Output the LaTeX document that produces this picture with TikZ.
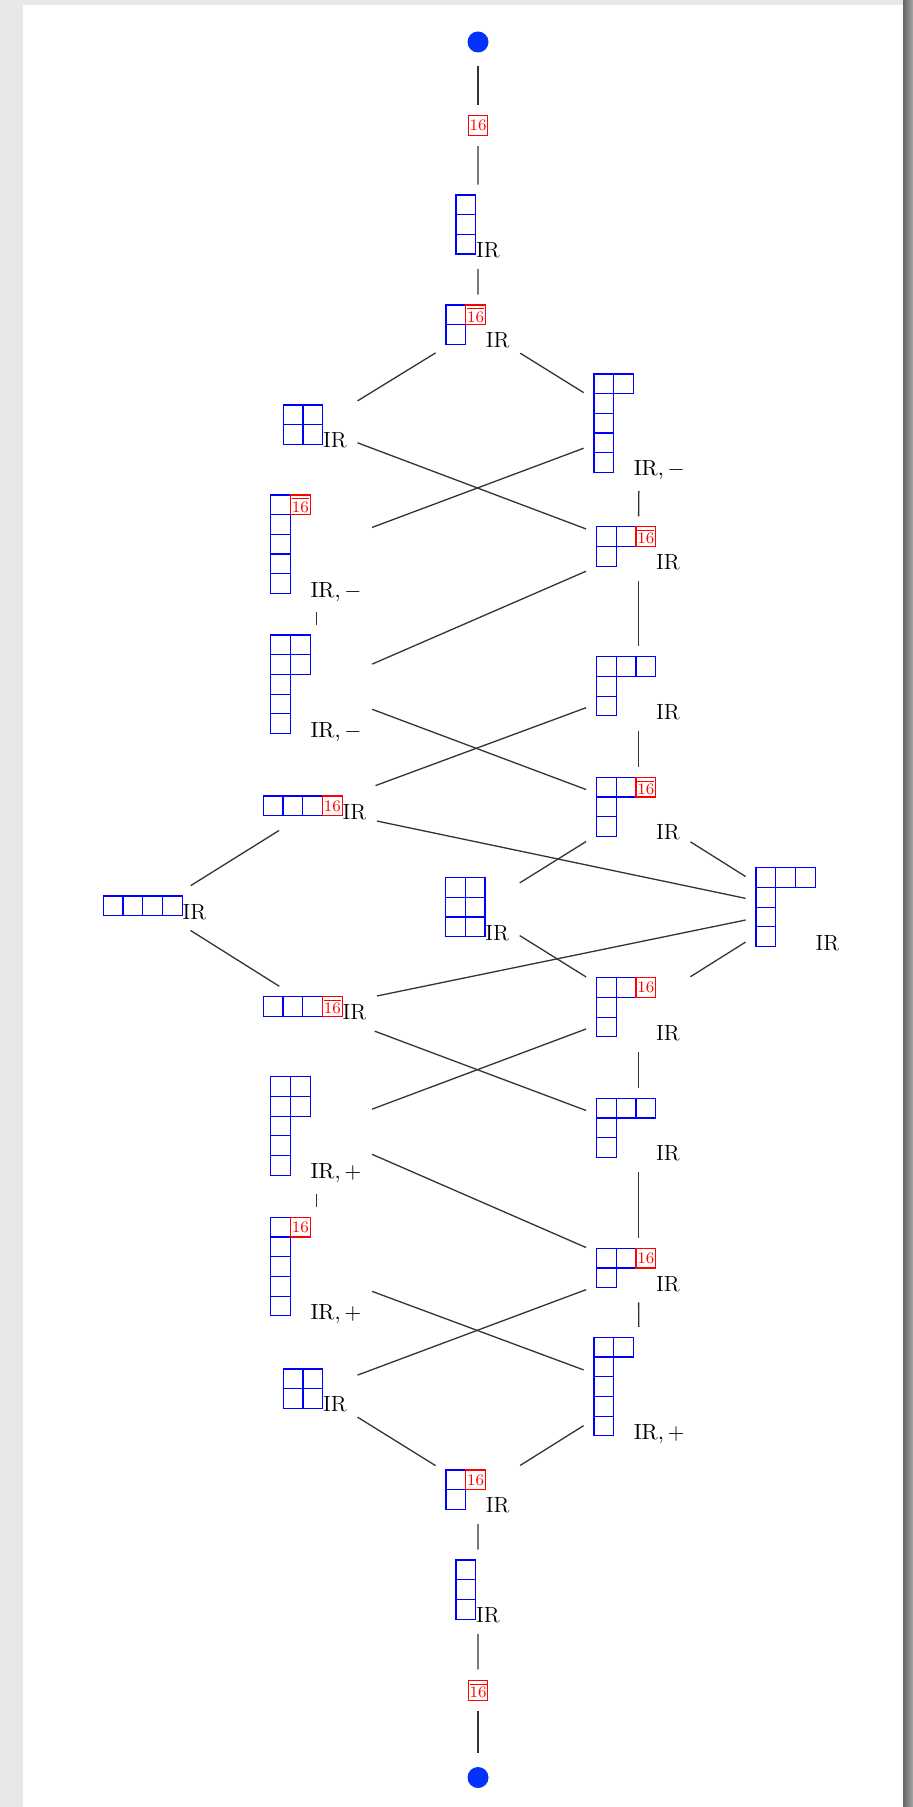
\documentclass[tikz,border=0pt]{standalone}
\usepackage{tikz}
\usetikzlibrary{fit,calc}
\definecolor{dotblue}{RGB}{5,50,250}
\newcommand{\ybs}{19.7}
\tikzset{
  ybox/.style   = {draw=blue, line width=0.6pt},
  rbox/.style   = {draw=red, text=red, line width=0.6pt, minimum size=9.85pt, inner sep=0pt, font=\fontsize{8}{8}\selectfont},
  irl/.style    = {anchor=base west, inner sep=0pt, font=\fontsize{11}{13}\selectfont},
  entry/.style  = {inner sep=5pt},
  vdot/.style   = {circle, fill=dotblue, minimum size=10.5pt, inner sep=0pt, outer sep=7pt},
  link/.style   = {draw=black!80, line width=0.65pt},
}

\begin{document}
\begin{tikzpicture}[x=0.5pt,y=-0.5pt]
  \useasboundingbox (0,0) rectangle (913,1807);
  \fill[black!9] (0,0) rectangle (913,1807);
  \fill[white] (23,5) rectangle (903,1807);
  \shade[left color=black!60, right color=black!35] (903,0) rectangle (913,1807);

  % ends of the chain
  \node[vdot] (dtop) at (478,42) {};
  \node[rbox, outer sep=5.5pt] (rtop) at (478,125.4) {16};
  \node[rbox, outer sep=5.5pt] (rbot) at (478,1690.3) {$\overline{16}$};
  \node[vdot] (dbot) at (478,1777.5) {};

  % young diagrams: name/x/y/rows/width/height/red column/red kind/label
  \foreach \nm/\x/\y/\rows/\w/\h/\rc/\rd/\lab in {%
    c3t/456/195/{1,1,1}/1/3/0/0/IR,
    a1/446/305/{1,1}/2/2/1/2/IR,
    sqt/283.3/405/{2,2}/2/2/0/0/IR,
    hk5m/594/374/{2,1,1,1,1}/2/5/0/0/{$\mathrm{IR},-$},
    c5m/270.7/495/{1,1,1,1,1}/2/5/1/2/{$\mathrm{IR},-$},
    hk3b/596.5/526.7/{2,1}/3/2/2/2/IR,
    dd/270.7/635/{2,2,1,1,1}/2/5/0/0/{$\mathrm{IR},-$},
    hk311/596.5/656.7/{3,1,1}/3/3/0/0/IR,
    hk3bb/596.5/777.3/{2,1,1}/3/3/2/2/IR,
    row3a/263.3/796/{3}/4/1/3/1/IR,
    row4/103.3/896/{4}/4/1/0/0/IR,
    blk/445.5/877.5/{2,2,2}/2/3/0/0/IR,
    hk3111/756/867.7/{3,1,1,1}/3/4/0/0/IR,
    row3b/263.3/996.7/{3}/4/1/3/2/IR,
    hk3c/596.5/977.7/{2,1,1}/3/3/2/1/IR,
    ddp/270.7/1076.7/{2,2,1,1,1}/2/5/0/0/{$\mathrm{IR},+$},
    hk311p/596.5/1098.3/{3,1,1}/3/3/0/0/IR,
    c5p/270.7/1217.3/{1,1,1,1,1}/2/5/1/1/{$\mathrm{IR},+$},
    hk3d/596.5/1248.3/{2,1}/3/2/2/1/IR,
    sqb/283.3/1369/{2,2}/2/2/0/0/IR,
    hk5p/594/1337.3/{2,1,1,1,1}/2/5/0/0/{$\mathrm{IR},+$},
    a2/446/1470/{1,1}/2/2/1/1/IR,
    c3b/456/1560/{1,1,1}/1/3/0/0/IR}
  {
    \foreach \len [count=\row from 0] in \rows {
      \foreach \col in {1,...,\len}
        \draw[ybox] ({\x+(\col-1)*\ybs},{\y+\row*\ybs}) rectangle ++(\ybs,\ybs);
    }
    \ifcase\rd\relax
    \or \node[rbox] at ({\x+(\rc+0.5)*\ybs},{\y+0.5*\ybs}) {16};
    \or \node[rbox] at ({\x+(\rc+0.5)*\ybs},{\y+0.5*\ybs}) {$\overline{16}$};
    \fi
    \coordinate (\nm-nw) at (\x,\y);
    \coordinate (\nm-se) at ({\x+\w*\ybs},{\y+\h*\ybs});
    \node[irl] (\nm-l) at ({\x+\w*\ybs},{\y+\h*\ybs+3.5}) {\lab};
    \node[entry, fit=(\nm-nw)(\nm-se)(\nm-l)] (\nm) {};
  }

  \foreach \a/\b in {dtop/rtop, rtop/c3t, c3t/a1, a1/sqt, a1/hk5m,
    sqt/hk3b, hk5m/c5m, hk5m/hk3b, c5m/dd, hk3b/dd, hk3b/hk311,
    dd/hk3bb, hk311/row3a, hk311/hk3bb, row3a/row4, row3a/hk3111,
    hk3bb/blk, hk3bb/hk3111, row4/row3b, blk/hk3c, hk3111/row3b,
    hk3111/hk3c, row3b/hk311p, hk3c/ddp, hk3c/hk311p, ddp/c5p,
    ddp/hk3d, hk311p/hk3d, c5p/hk5p, hk3d/sqb, hk3d/hk5p, sqb/a2,
    hk5p/a2, a2/c3b, c3b/rbot, rbot/dbot}
    \draw[link] (\a) -- (\b);
\end{tikzpicture}
\end{document}
